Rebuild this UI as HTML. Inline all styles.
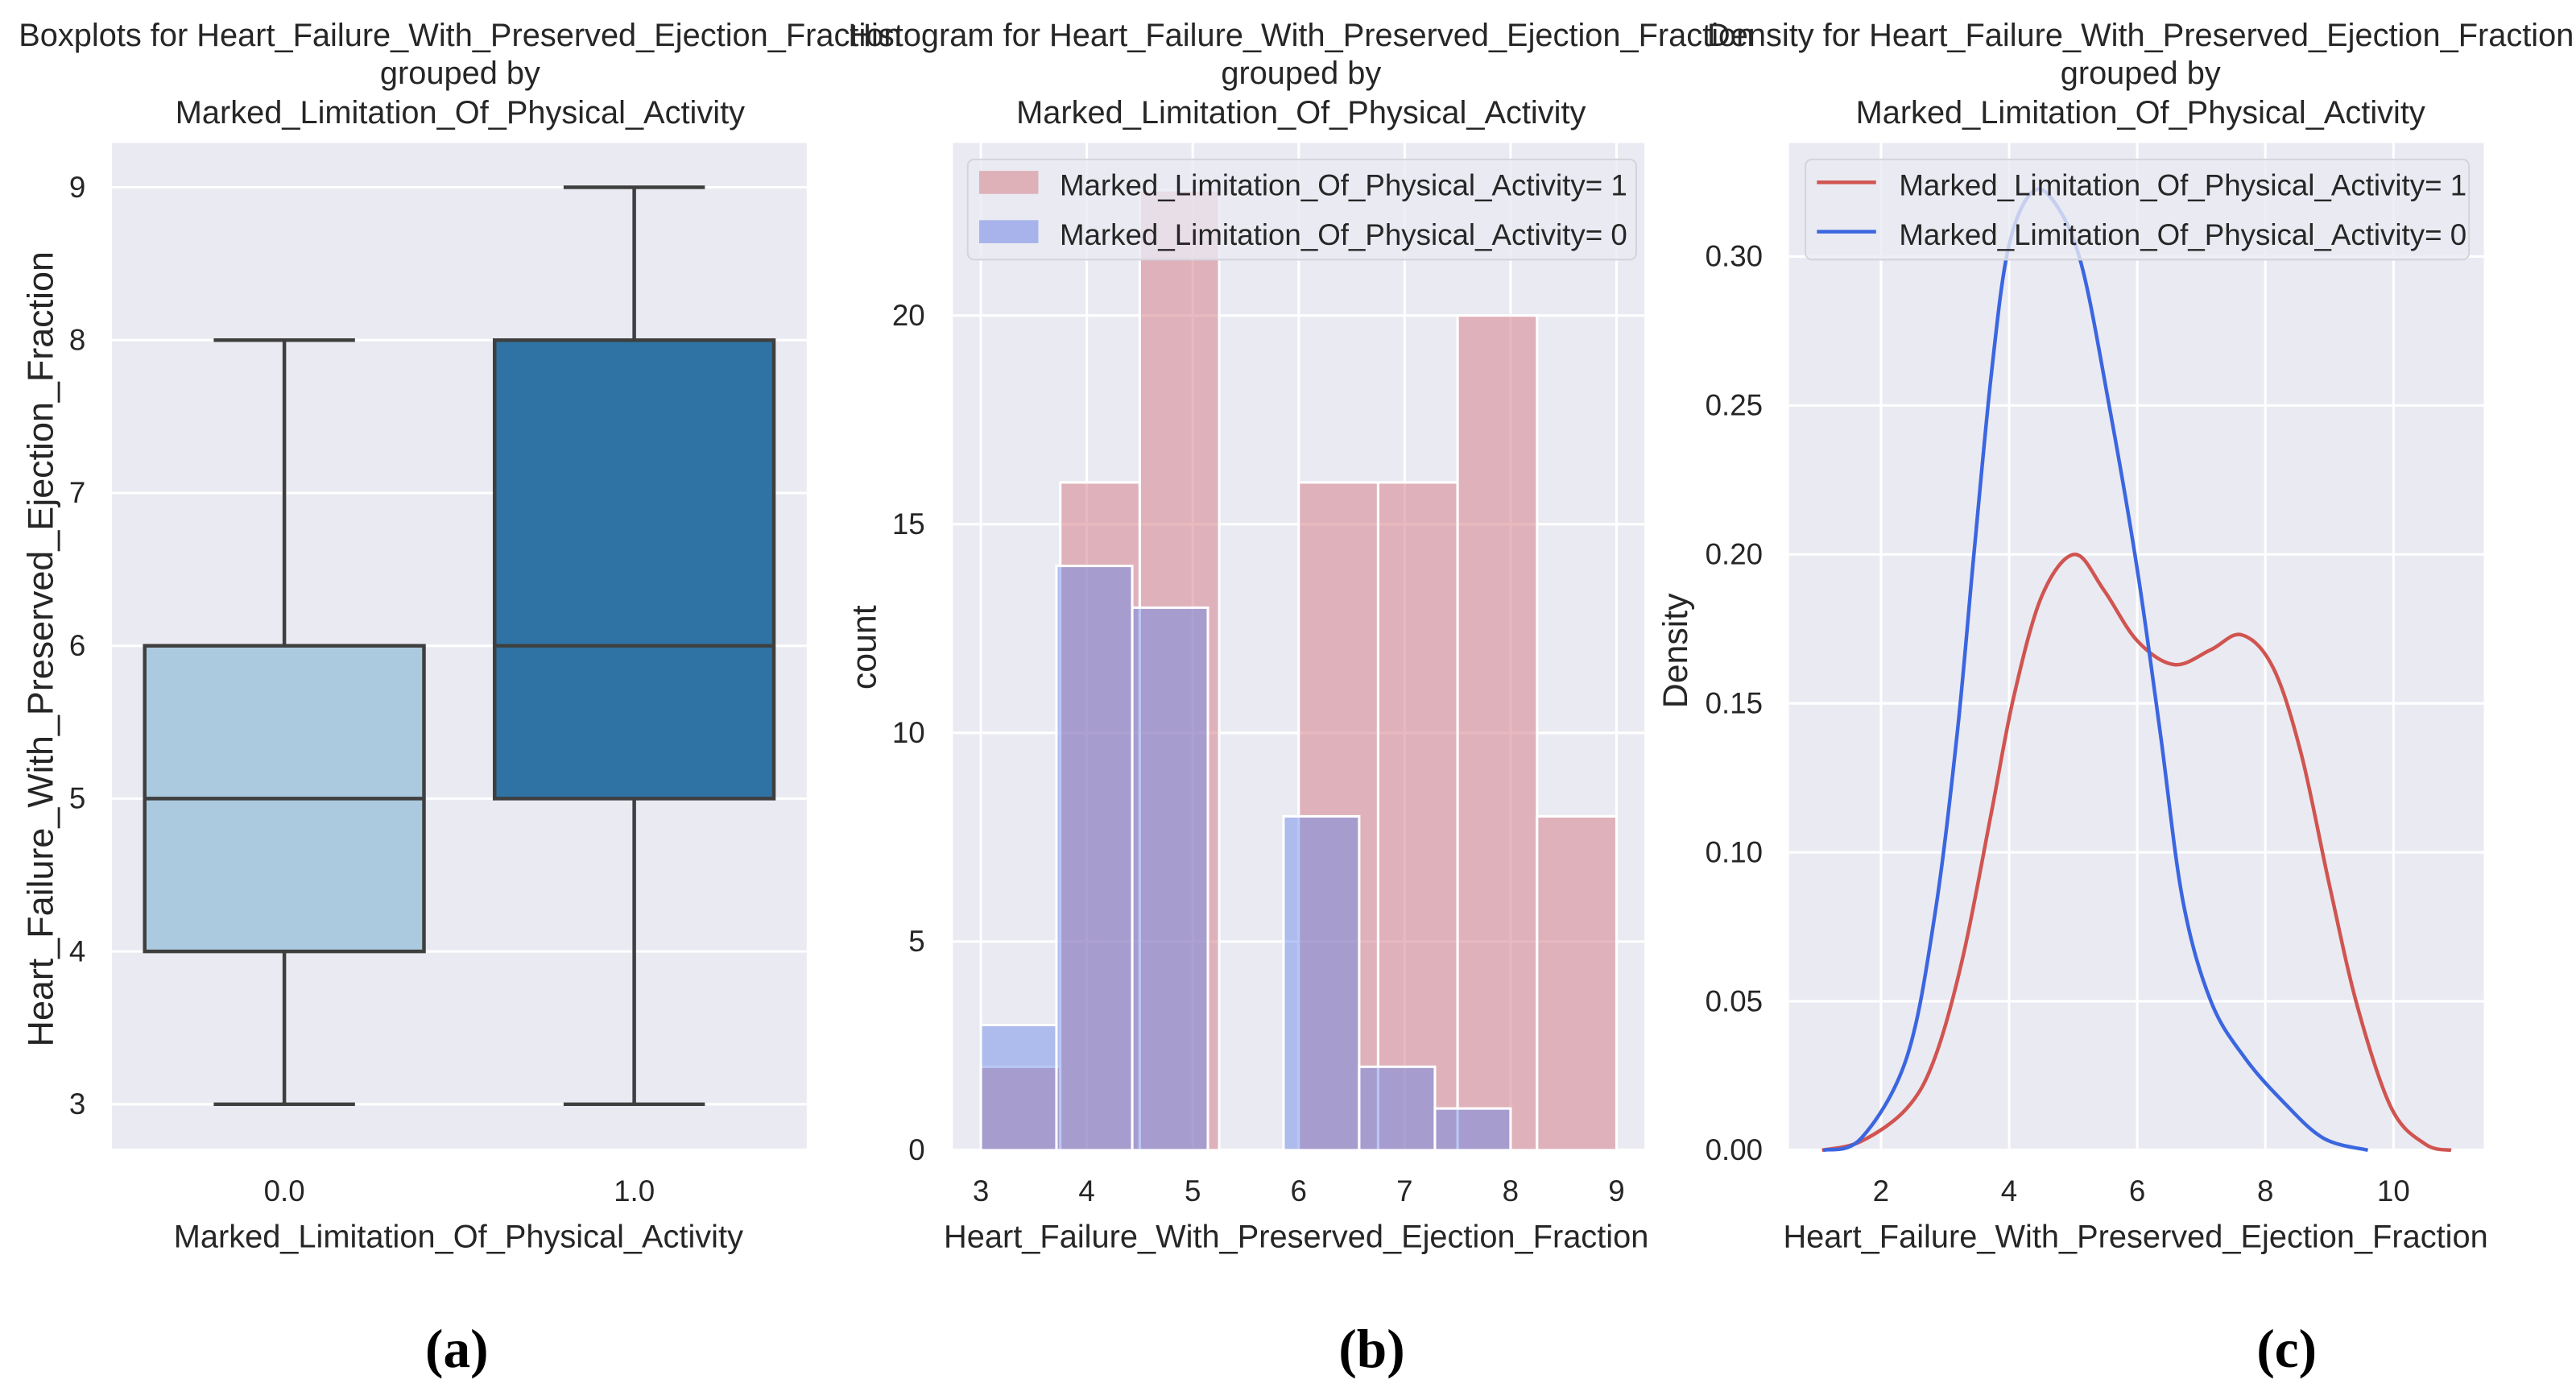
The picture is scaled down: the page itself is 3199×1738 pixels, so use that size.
<!DOCTYPE html>
<html><head><meta charset="utf-8"><style>
html,body{margin:0;padding:0;background:#fff;}
svg{display:block;}
text{font-family:"Liberation Sans",sans-serif;fill:#262626;}
</style></head><body>
<svg id="fig" width="3199" height="1738" viewBox="0 0 1568 852" xmlns="http://www.w3.org/2000/svg">
<g id="pa"></g>
<g id="pb"></g>
<g id="pc"></g>
</svg>
<script>
// ---- Panel (a) boxplot data
const boxCats = ["0.0", "1.0"];
const boxMin = [3, 3];
const boxQ1 = [4, 5];
const boxMed = [5, 6];
const boxQ3 = [6, 8];
const boxMax = [8, 9];
const boxTicks = [3, 4, 5, 6, 7, 8, 9];
// ---- Panel (b) histogram data
const redEdges = [3, 3.75, 4.5, 5.25, 6, 6.75, 7.5, 8.25, 9];
const redCounts = [2, 16, 23, 0, 16, 16, 20, 8];
const blueEdges = [3, 3.714, 4.429, 5.143, 5.857, 6.571, 7.286, 8];
const blueCounts = [3, 14, 13, 0, 8, 2, 1];
const histYTicks = [0, 5, 10, 15, 20];
const histXTicks = [3, 4, 5, 6, 7, 8, 9];
// ---- Panel (c) density data
const kdeBlueX = [1.1, 1.69, 2.4, 2.84, 3.19, 3.45, 3.72, 3.98, 4.33, 4.68, 5.12, 5.57, 6.0, 6.36, 6.71, 7.15, 7.68, 8.29, 8.91, 9.6];
const kdeBlueY = [0, 0.004, 0.031, 0.079, 0.14, 0.20, 0.26, 0.302, 0.321, 0.319, 0.298, 0.249, 0.195, 0.14, 0.084, 0.050, 0.031, 0.016, 0.004, 0];
const kdeRedX = [1.08, 1.69, 2.4, 2.84, 3.28, 3.72, 4.07, 4.51, 5.02, 5.48, 6.0, 6.58, 7.15, 7.63, 8.12, 8.56, 9.0, 9.44, 9.97, 10.5, 10.9];
const kdeRedY = [0, 0.003, 0.014, 0.031, 0.065, 0.113, 0.152, 0.186, 0.200, 0.188, 0.171, 0.163, 0.168, 0.173, 0.162, 0.133, 0.089, 0.048, 0.014, 0.002, 0];
const kdeYTicks = [0.00, 0.05, 0.10, 0.15, 0.20, 0.25, 0.30];
const kdeXTicks = [2, 4, 6, 8, 10];

const NS = "http://www.w3.org/2000/svg";
function mk(parent, tag, attrs, txt) {
  const e = document.createElementNS(NS, tag);
  for (const k in attrs) e.setAttribute(k, attrs[k]);
  if (txt !== undefined) e.textContent = txt;
  parent.appendChild(e);
  return e;
}
const BG = "#eaeaf2";
const TF = 18;

function titles(g, cx, l1) {
  const t = mk(g, "text", {x: cx, y: 28, "font-size": 19.5, "text-anchor": "middle"}, l1);
  
  
  const t2 = mk(g, "text", {x: cx, y: 51, "font-size": 19.5, "text-anchor": "middle"}, "grouped by");
  
  
  const t3 = mk(g, "text", {x: cx, y: 75, "font-size": 19.5, "text-anchor": "middle"}, "Marked_Limitation_Of_Physical_Activity");
  
  
}
function panelLabel(g, cx, s) {
  const t = mk(g, "text", {x: cx, y: 832, "font-size": 33, "font-weight": "bold", "text-anchor": "middle", style: "font-family:'Liberation Serif',serif;fill:#000"}, s);
  
  
}
function ylab(g, x, y, s, fs) {
  const t = mk(g, "text", {x: x, y: y, "font-size": fs || 20, "text-anchor": "middle", transform: "rotate(-90 " + x + " " + y + ")"}, s);
  
  
}
function xlab(g, x, s) {
  const t = mk(g, "text", {x: x, y: 759, "font-size": 19.5, "text-anchor": "middle"}, s);
  
  
}

// ===== Panel A
(function () {
  const g = document.getElementById("pa");
  const L = 68, R = 491, T = 87, B = 699;
  const y = v => 672 - (v - 3) * 93;
  const x = i => 173 + i * 213;
  const bg = mk(g, "rect", {x: L, y: T, width: R - L, height: B - T, fill: BG});
  
  
  boxTicks.forEach(v => {
    const l = mk(g, "line", {x1: L, x2: R, y1: y(v), y2: y(v), stroke: "#fff", "stroke-width": 1.5});
    
    
    const t = mk(g, "text", {x: 52, y: y(v) + 6, "font-size": TF, "text-anchor": "end"}, v);
    
    
  });
  const cols = ["#abcadf", "#2e73a3"];
  boxCats.forEach((c, i) => {
    const cx = x(i), hw = 85, cw = 43;
    const s = {stroke: "#3f3f3f", "stroke-width": 2.2, fill: "none"};
    const w1 = mk(g, "line", Object.assign({x1: cx, x2: cx, y1: y(boxMin[i]), y2: y(boxQ1[i])}, s));
    
    
    const w2 = mk(g, "line", Object.assign({x1: cx, x2: cx, y1: y(boxQ3[i]), y2: y(boxMax[i])}, s));
    
    
    const c1 = mk(g, "line", Object.assign({x1: cx - cw, x2: cx + cw, y1: y(boxMin[i]), y2: y(boxMin[i])}, s));
    
    
    const c2 = mk(g, "line", Object.assign({x1: cx - cw, x2: cx + cw, y1: y(boxMax[i]), y2: y(boxMax[i])}, s));
    
    
    const b = mk(g, "rect", {x: cx - hw, y: y(boxQ3[i]), width: 2 * hw, height: y(boxQ1[i]) - y(boxQ3[i]), fill: cols[i], stroke: "#3f3f3f", "stroke-width": 2.2});
    
    
    const m = mk(g, "line", Object.assign({x1: cx - hw, x2: cx + hw, y1: y(boxMed[i]), y2: y(boxMed[i])}, s));
    
    
    const t = mk(g, "text", {x: cx, y: 731, "font-size": TF, "text-anchor": "middle"}, c);
    
    
  });
  titles(g, 280, "Boxplots for Heart_Failure_With_Preserved_Ejection_Fraction");
  ylab(g, 32, 395, "Heart_Failure_With_Preserved_Ejection_Fraction", 22);
  xlab(g, 279, "Marked_Limitation_Of_Physical_Activity");
  panelLabel(g, 278, "(a)");
})();

// ===== Panel B
(function () {
  const g = document.getElementById("pb");
  const L = 580, R = 1001, T = 87, B = 699;
  const y = v => 700 - v * 25.4;
  const x = v => 597 + (v - 3) * 64.5;
  const bg = mk(g, "rect", {x: L, y: T, width: R - L, height: B - T, fill: BG});
  
  
  histYTicks.forEach(v => {
    const l = mk(g, "line", {x1: L, x2: R, y1: y(v), y2: y(v), stroke: "#fff", "stroke-width": 1.5});
    
    
    const t = mk(g, "text", {x: 563, y: y(v) + 6, "font-size": TF, "text-anchor": "end"}, v);
    
    
  });
  histXTicks.forEach(v => {
    const l = mk(g, "line", {x1: x(v), x2: x(v), y1: T, y2: B, stroke: "#fff", "stroke-width": 1.5});
    
    
    const t = mk(g, "text", {x: x(v), y: 731, "font-size": TF, "text-anchor": "middle"}, v);
    
    
  });
  redCounts.forEach((c, i) => {
    if (!c) return;
    const r = mk(g, "rect", {x: x(redEdges[i]), y: y(c), width: x(redEdges[i + 1]) - x(redEdges[i]), height: y(0) - y(c), fill: "rgba(214,130,140,0.55)", stroke: "#fff", "stroke-width": 1.5});
    
    
  });
  blueCounts.forEach((c, i) => {
    if (!c) return;
    const r = mk(g, "rect", {x: x(blueEdges[i]), y: y(c), width: x(blueEdges[i + 1]) - x(blueEdges[i]), height: y(0) - y(c), fill: "rgba(100,130,230,0.45)", stroke: "#fff", "stroke-width": 1.5});
    
    
  });
  const lg = mk(g, "g", {});
  
  
  mk(lg, "rect", {x: 589, y: 97, width: 407, height: 61, rx: 4, fill: "rgba(234,234,242,0.8)", stroke: "#d4d4dc"});
  const s1 = mk(lg, "rect", {x: 596, y: 104, width: 36, height: 14, fill: "#deb0b8"});
  
  
  const s2 = mk(lg, "rect", {x: 596, y: 134, width: 36, height: 14, fill: "#a7b3ea"});
  
  
  const e1 = mk(lg, "text", {x: 645, y: 119, "font-size": 18}, "Marked_Limitation_Of_Physical_Activity= 1");
  
  
  const e2 = mk(lg, "text", {x: 645, y: 149, "font-size": 18}, "Marked_Limitation_Of_Physical_Activity= 0");
  
  
  titles(g, 792, "Histogram for Heart_Failure_With_Preserved_Ejection_Fraction");
  ylab(g, 533, 394, "count", 21);
  xlab(g, 789, "Heart_Failure_With_Preserved_Ejection_Fraction");
  panelLabel(g, 835, "(b)");
})();

// ===== Panel C
(function () {
  const g = document.getElementById("pc");
  const L = 1089, R = 1512, T = 87, B = 699;
  const y = v => 700 - v * 1813;
  const x = v => 1145 + (v - 2) * 39;
  const bg = mk(g, "rect", {x: L, y: T, width: R - L, height: B - T, fill: BG});
  
  
  kdeYTicks.forEach(v => {
    const l = mk(g, "line", {x1: L, x2: R, y1: y(v), y2: y(v), stroke: "#fff", "stroke-width": 1.5});
    
    
    const t = mk(g, "text", {x: 1073, y: y(v) + 6, "font-size": TF, "text-anchor": "end"}, v.toFixed(2));
    
    
  });
  kdeXTicks.forEach(v => {
    const l = mk(g, "line", {x1: x(v), x2: x(v), y1: T, y2: B, stroke: "#fff", "stroke-width": 1.5});
    
    
    const t = mk(g, "text", {x: x(v), y: 731, "font-size": TF, "text-anchor": "middle"}, v);
    
    
  });
  function curve(xs, ys) {
    const p = xs.map((v, i) => [x(v), y(ys[i])]);
    let d = "M" + p[0][0] + "," + p[0][1];
    for (let i = 0; i < p.length - 1; i++) {
      const p0 = p[Math.max(0, i - 1)], p1 = p[i], p2 = p[i + 1], p3 = p[Math.min(p.length - 1, i + 2)];
      const c1 = [p1[0] + (p2[0] - p0[0]) / 6, p1[1] + (p2[1] - p0[1]) / 6];
      const c2 = [p2[0] - (p3[0] - p1[0]) / 6, p2[1] - (p3[1] - p1[1]) / 6];
      d += " C" + c1.join(",") + " " + c2.join(",") + " " + p2.join(",");
    }
    return d;
  }
  const rl = mk(g, "path", {d: curve(kdeRedX, kdeRedY), fill: "none", stroke: "#d05450", "stroke-width": 2.2});
  
  
  const bl = mk(g, "path", {d: curve(kdeBlueX, kdeBlueY), fill: "none", stroke: "#3b66e0", "stroke-width": 2.2});
  
  
  const lg = mk(g, "g", {});
  
  
  mk(lg, "rect", {x: 1099, y: 97, width: 404, height: 61, rx: 4, fill: "rgba(234,234,242,0.8)", stroke: "#d4d4dc"});
  const s1 = mk(lg, "line", {x1: 1106, x2: 1142, y1: 111, y2: 111, stroke: "#d05450", "stroke-width": 2.2});
  
  
  const s2 = mk(lg, "line", {x1: 1106, x2: 1142, y1: 141, y2: 141, stroke: "#3b66e0", "stroke-width": 2.2});
  
  
  const e1 = mk(lg, "text", {x: 1156, y: 119, "font-size": 18}, "Marked_Limitation_Of_Physical_Activity= 1");
  
  
  const e2 = mk(lg, "text", {x: 1156, y: 149, "font-size": 18}, "Marked_Limitation_Of_Physical_Activity= 0");
  
  
  titles(g, 1303, "Density for Heart_Failure_With_Preserved_Ejection_Fraction");
  ylab(g, 1027, 396, "Density", 21);
  xlab(g, 1300, "Heart_Failure_With_Preserved_Ejection_Fraction");
  panelLabel(g, 1392, "(c)");
})();
</script>
</body></html>
